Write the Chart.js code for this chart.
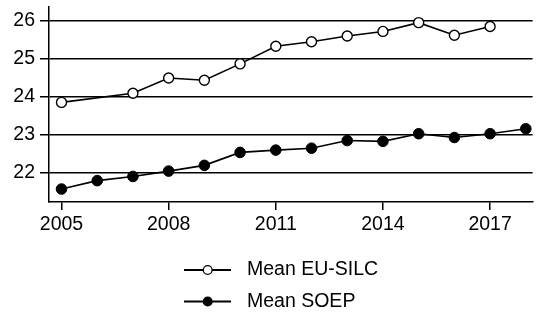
<!DOCTYPE html>
<html>
<head>
<meta charset="utf-8">
<script src="https://cdn.jsdelivr.net/npm/chart.js@4/dist/chart.umd.min.js"></script>
<style>
html,body{margin:0;padding:0;background:#fff;}
#wrap{position:relative;width:539px;height:313px;}
</style>
</head>
<body>
<div id="wrap"><canvas id="c" width="539" height="313"></canvas></div>
<script>
const years = [2005,2006,2007,2008,2009,2010,2011,2012,2013,2014,2015,2016,2017,2018];
const euSilc = [23.85,null,24.09,24.49,24.43,24.86,25.32,25.44,25.59,25.71,25.94,25.61,25.84,null];
const soep = [21.58,21.80,21.91,22.05,22.20,22.54,22.60,22.65,22.85,22.83,23.03,22.93,23.03,23.16];
const xTickLabels = [2005,2008,2011,2014,2017];
const yTickLabels = [22,23,24,25,26];
const seriesNames = ['Mean EU-SILC','Mean SOEP'];

const FONT = '"Liberation Sans", Arial, sans-serif';
const toPts = arr => years.map((y,i)=>({x:y,y:arr[i]})).filter(p=>p.y!==null);

const legendPlugin = {
  id:'customLegend',
  afterDraw(chart){
    const ctx = chart.ctx;
    const rows = [
      {name:seriesNames[0], fill:'#fff', y:270},
      {name:seriesNames[1], fill:'#000', y:301.5}
    ];
    ctx.save();
    rows.forEach(r=>{
      ctx.strokeStyle='#000';
      ctx.lineWidth=1.8;
      ctx.beginPath();ctx.moveTo(184,r.y);ctx.lineTo(231,r.y);ctx.stroke();
      ctx.beginPath();ctx.arc(207.7,r.y,4.4,0,Math.PI*2);
      ctx.fillStyle=r.fill;ctx.fill();ctx.lineWidth=1.3;ctx.stroke();
      ctx.fillStyle='#000';
      ctx.font='19.5px '+FONT;
      ctx.textBaseline='middle';
      ctx.textAlign='left';
      ctx.fillText(r.name,247,r.y);
    });
    ctx.restore();
  }
};

const noPad = s => {s.paddingTop=0;s.paddingBottom=0;s.paddingLeft=0;s.paddingRight=0;};

new Chart(document.getElementById('c'),{
  type:'line',
  data:{
    datasets:[
      {label:seriesNames[0],data:toPts(euSilc),borderColor:'#000',borderWidth:1.6,
       pointRadius:5,pointBackgroundColor:'#fff',pointBorderColor:'#000',pointBorderWidth:1.4,
       spanGaps:true,tension:0},
      {label:seriesNames[1],data:toPts(soep),borderColor:'#000',borderWidth:1.6,
       pointRadius:5.3,pointBackgroundColor:'#000',pointBorderColor:'#000',pointBorderWidth:1,
       spanGaps:true,tension:0}
    ]
  },
  options:{
    responsive:false,
    animation:false,
    devicePixelRatio:1,
    layout:{padding:{top:7,right:0,bottom:81,left:0}},
    plugins:{legend:{display:false},tooltip:{enabled:false}},
    scales:{
      x:{
        type:'linear',min:2004.65,max:2018.19,
        afterBuildTicks(s){s.ticks=xTickLabels.map(v=>({value:v}));},
        afterFit(s){s.height=30;noPad(s);},
        grid:{drawOnChartArea:false,drawTicks:true,tickLength:8,color:'#000',lineWidth:1.5},
        border:{display:true,color:'#000',width:1.5},
        ticks:{color:'#000',font:{family:FONT,size:19.5},padding:3,maxRotation:0,autoSkip:false,
          callback:v=>String(v)}
      },
      y:{
        min:21.24,max:26.35,
        afterBuildTicks(s){s.ticks=yTickLabels.map(v=>({value:v}));},
        afterFit(s){s.width=49;noPad(s);},
        grid:{drawOnChartArea:true,drawTicks:true,tickLength:9,color:'#000',lineWidth:1.5},
        border:{display:true,color:'#000',width:1.5},
        ticks:{color:'#000',font:{family:FONT,size:19.5},padding:5,callback:v=>String(v)}
      }
    }
  },
  plugins:[legendPlugin]
});
</script>
</body>
</html>
